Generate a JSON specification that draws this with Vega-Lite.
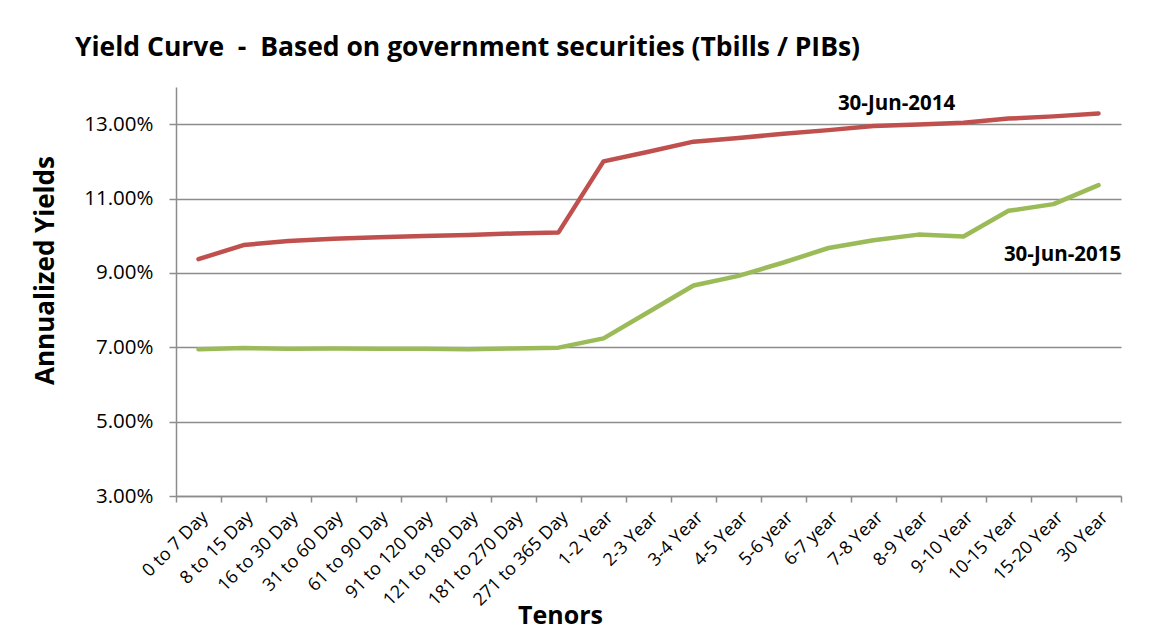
{
  "$schema": "https://vega.github.io/schema/vega-lite/v6.json",
  "autosize": {"type": "none"},
  "width": 945,
  "height": 409,
  "padding": {"left": 176, "top": 87, "right": 32, "bottom": 141},
  "background": "white",
  "config": {
    "view": {"stroke": null},
    "font": "Open Sans"
  },
  "title": {
    "text": "Yield Curve\u00a0\u00a0-\u00a0\u00a0Based on government securities (Tbills / PIBs)",
    "anchor": "start",
    "frame": "group",
    "dx": -101,
    "offset": 26,
    "font": "Open Sans",
    "fontSize": 26.5,
    "fontWeight": "bold",
    "color": "#000000"
  },
  "datasets": {
    "yields": [
      {"tenor": "0 to 7 Day", "series": "30-Jun-2014", "yield": 9.37},
      {"tenor": "8 to 15 Day", "series": "30-Jun-2014", "yield": 9.75},
      {"tenor": "16 to 30 Day", "series": "30-Jun-2014", "yield": 9.86},
      {"tenor": "31 to 60 Day", "series": "30-Jun-2014", "yield": 9.92},
      {"tenor": "61 to 90 Day", "series": "30-Jun-2014", "yield": 9.96},
      {"tenor": "91 to 120 Day", "series": "30-Jun-2014", "yield": 9.99},
      {"tenor": "121 to 180 Day", "series": "30-Jun-2014", "yield": 10.02},
      {"tenor": "181 to 270 Day", "series": "30-Jun-2014", "yield": 10.06},
      {"tenor": "271 to 365 Day", "series": "30-Jun-2014", "yield": 10.09},
      {"tenor": "1-2 Year", "series": "30-Jun-2014", "yield": 12.0},
      {"tenor": "2-3 Year", "series": "30-Jun-2014", "yield": 12.26},
      {"tenor": "3-4 Year", "series": "30-Jun-2014", "yield": 12.53},
      {"tenor": "4-5 Year", "series": "30-Jun-2014", "yield": 12.63},
      {"tenor": "5-6 year", "series": "30-Jun-2014", "yield": 12.74},
      {"tenor": "6-7 year", "series": "30-Jun-2014", "yield": 12.84},
      {"tenor": "7-8 Year", "series": "30-Jun-2014", "yield": 12.95},
      {"tenor": "8-9 Year", "series": "30-Jun-2014", "yield": 12.99},
      {"tenor": "9-10 Year", "series": "30-Jun-2014", "yield": 13.04},
      {"tenor": "10-15 Year", "series": "30-Jun-2014", "yield": 13.15},
      {"tenor": "15-20 Year", "series": "30-Jun-2014", "yield": 13.21},
      {"tenor": "30 Year", "series": "30-Jun-2014", "yield": 13.29},
      {"tenor": "0 to 7 Day", "series": "30-Jun-2015", "yield": 6.95},
      {"tenor": "8 to 15 Day", "series": "30-Jun-2015", "yield": 6.98},
      {"tenor": "16 to 30 Day", "series": "30-Jun-2015", "yield": 6.96},
      {"tenor": "31 to 60 Day", "series": "30-Jun-2015", "yield": 6.97},
      {"tenor": "61 to 90 Day", "series": "30-Jun-2015", "yield": 6.96},
      {"tenor": "91 to 120 Day", "series": "30-Jun-2015", "yield": 6.96},
      {"tenor": "121 to 180 Day", "series": "30-Jun-2015", "yield": 6.95},
      {"tenor": "181 to 270 Day", "series": "30-Jun-2015", "yield": 6.97},
      {"tenor": "271 to 365 Day", "series": "30-Jun-2015", "yield": 6.99},
      {"tenor": "1-2 Year", "series": "30-Jun-2015", "yield": 7.24},
      {"tenor": "2-3 Year", "series": "30-Jun-2015", "yield": 7.95},
      {"tenor": "3-4 Year", "series": "30-Jun-2015", "yield": 8.66},
      {"tenor": "4-5 Year", "series": "30-Jun-2015", "yield": 8.92},
      {"tenor": "5-6 year", "series": "30-Jun-2015", "yield": 9.28},
      {"tenor": "6-7 year", "series": "30-Jun-2015", "yield": 9.67},
      {"tenor": "7-8 Year", "series": "30-Jun-2015", "yield": 9.88},
      {"tenor": "8-9 Year", "series": "30-Jun-2015", "yield": 10.03},
      {"tenor": "9-10 Year", "series": "30-Jun-2015", "yield": 9.98},
      {"tenor": "10-15 Year", "series": "30-Jun-2015", "yield": 10.67},
      {"tenor": "15-20 Year", "series": "30-Jun-2015", "yield": 10.85},
      {"tenor": "30 Year", "series": "30-Jun-2015", "yield": 11.36}
    ],
    "label2014": [
      {"tenor": "7-8 Year", "series": "30-Jun-2014", "yield": 13.54}
    ],
    "label2015": [
      {"tenor": "15-20 Year", "series": "30-Jun-2015", "yield": 9.49}
    ]
  },
  "layer": [
    {
      "data": {"name": "yields"},
      "mark": {"type": "line", "strokeWidth": 4.5, "strokeCap": "round", "strokeJoin": "round"},
      "encoding": {
        "x": {
          "field": "tenor",
          "type": "ordinal",
          "sort": null,
          "bandPosition": 0.5,
          "scale": {"type": "band", "paddingInner": 0, "paddingOuter": 0},
          "axis": {
            "title": "Tenors",
            "titleFont": "Open Sans",
            "titleFontSize": 25,
            "titleFontWeight": "bold",
            "titleColor": "#000000",
            "titleX": 384,
            "titleY": 127,
            "titleBaseline": "alphabetic",
            "labelAngle": -45,
            "labelAlign": "right",
            "labelBaseline": "top",
            "labelFont": "Open Sans",
            "labelFontSize": 18,
            "labelColor": "#000000",
            "labelPadding": 6,
            "labelOverlap": false,
            "labelBound": false,
            "tickBand": "extent",
            "tickSize": 6,
            "tickColor": "#8c8c8c",
            "tickWidth": 1.5,
            "domainColor": "#8c8c8c",
            "domainWidth": 1.5,
            "grid": false
          }
        },
        "y": {
          "field": "yield",
          "type": "quantitative",
          "scale": {"domain": [3, 14], "nice": false, "zero": false},
          "axis": {
            "title": "Annualized Yields",
            "titleFont": "Open Sans",
            "titleFontSize": 26,
            "titleFontWeight": "bold",
            "titleColor": "#000000",
            "titlePadding": 25,
            "titleY": 183,
            "values": [3, 5, 7, 9, 11, 13],
            "labelExpr": "format(datum.value, '.2f') + '%'",
            "labelFont": "Open Sans",
            "labelFontSize": 20.5,
            "labelColor": "#000000",
            "labelPadding": 16,
            "tickSize": 7,
            "tickColor": "#8c8c8c",
            "tickWidth": 1.5,
            "domainColor": "#8c8c8c",
            "domainWidth": 1.5,
            "grid": true,
            "gridColor": "#8c8c8c",
            "gridWidth": 1.5
          }
        },
        "color": {
          "field": "series",
          "type": "nominal",
          "scale": {"domain": ["30-Jun-2014", "30-Jun-2015"], "range": ["#C0504D", "#9BBB59"]},
          "legend": null
        }
      }
    },
    {
      "data": {"name": "label2014"},
      "mark": {"type": "text", "font": "Open Sans", "fontSize": 20.5, "fontWeight": "bold", "color": "#000000", "align": "center", "baseline": "middle", "dx": 23},
      "encoding": {
        "x": {"field": "tenor", "type": "ordinal", "sort": null, "bandPosition": 0.5},
        "y": {"field": "yield", "type": "quantitative"},
        "text": {"field": "series"}
      }
    },
    {
      "data": {"name": "label2015"},
      "mark": {"type": "text", "font": "Open Sans", "fontSize": 20.5, "fontWeight": "bold", "color": "#000000", "align": "center", "baseline": "middle", "dx": 9},
      "encoding": {
        "x": {"field": "tenor", "type": "ordinal", "sort": null, "bandPosition": 0.5},
        "y": {"field": "yield", "type": "quantitative"},
        "text": {"field": "series"}
      }
    }
  ]
}
